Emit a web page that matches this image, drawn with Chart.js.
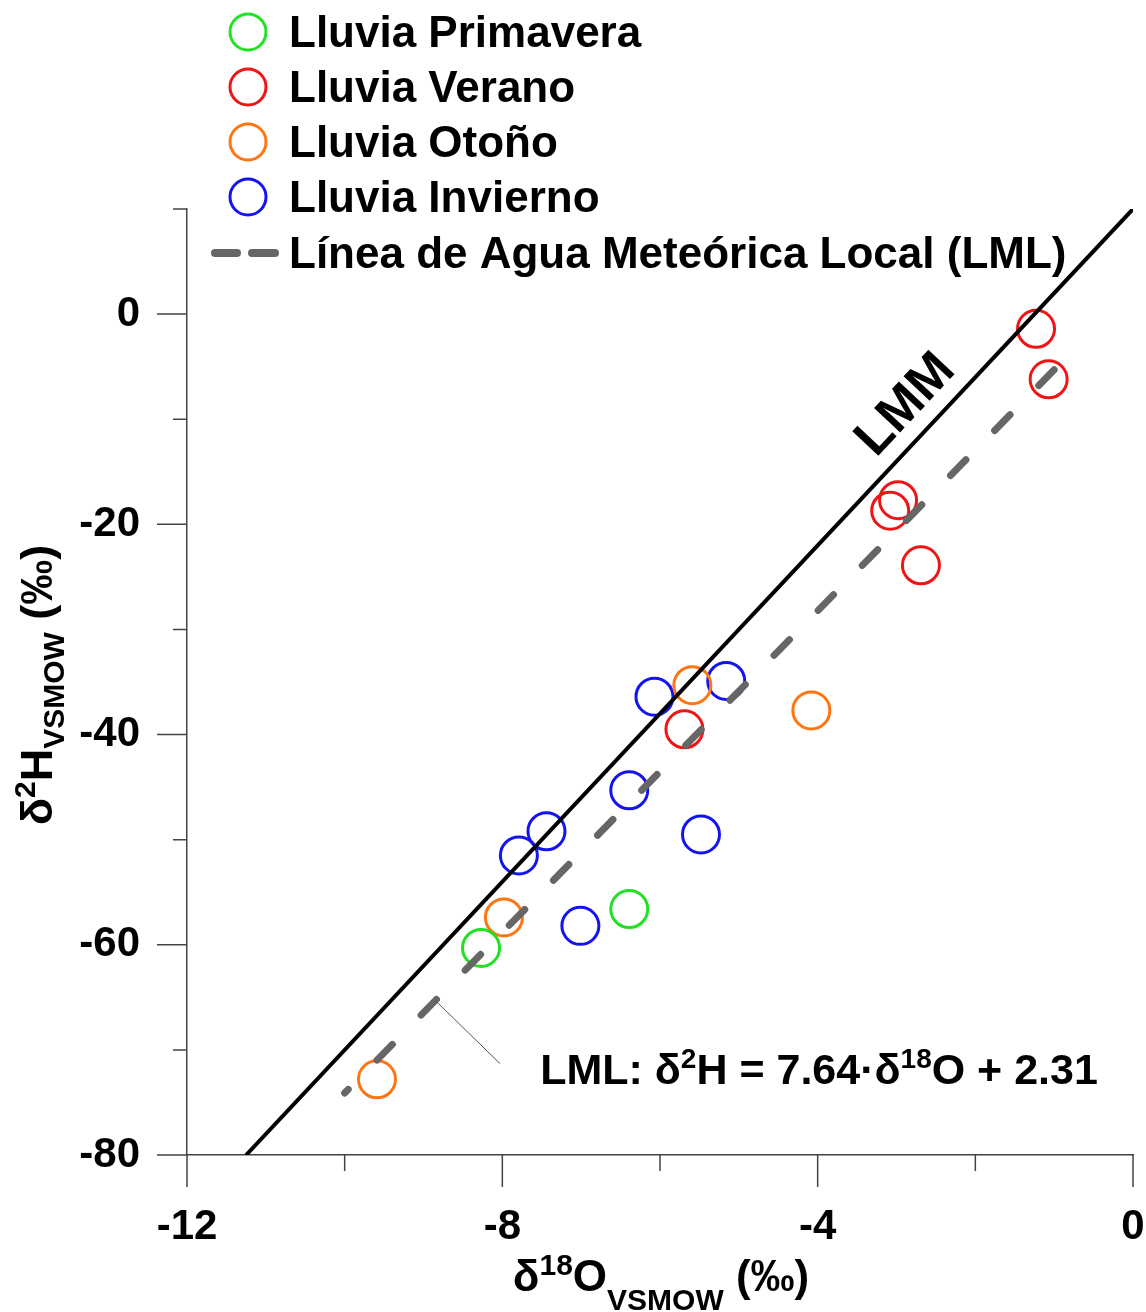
<!DOCTYPE html>
<html>
<head>
<meta charset="utf-8">
<script src="https://cdn.jsdelivr.net/npm/chart.js@4.4.0/dist/chart.umd.min.js"></script>
<style>
  html, body { margin: 0; padding: 0; background: #fff; }
  canvas { display: block; }
</style>
</head>
<body>
<canvas id="myChart" width="1146" height="1312"></canvas>
<script>
// δ18O (x) and δ2H (y) per season
const primaveraX = [-8.27, -6.39];
const primaveraY = [-60.3, -56.6];
const veranoX = [-1.23, -1.07, -2.98, -3.08, -2.69, -5.69];
const veranoY = [-1.4, -6.2, -17.7, -18.7, -23.9, -39.5];
const otonoX = [-9.59, -7.98, -5.59, -4.08];
const otonoY = [-72.8, -57.4, -35.3, -37.7];
const inviernoX = [-6.07, -5.16, -6.39, -7.44, -7.79, -5.48, -7.01];
const inviernoY = [-36.4, -34.9, -45.3, -49.2, -51.5, -49.5, -58.2];

// end points of the two lines
const lmmX = [-11.25, 0];
const lmmY = [-80, 10];
const lmlX = [-1, -10];
const lmlY = [-5.3, -74.1];

// labelled ticks
const xTicks = [-12, -8, -4, 0];
const yTicks = [-80, -60, -40, -20, 0];

const FONT = '"Liberation Sans", Arial, sans-serif';
Chart.defaults.font.family = FONT;

const pts = (xs, ys) => xs.map((x, i) => ({ x: x, y: ys[i] }));

const series = [
  { label: 'Lluvia Primavera', color: '#22e022', xs: primaveraX, ys: primaveraY },
  { label: 'Lluvia Verano', color: '#f01414', xs: veranoX, ys: veranoY },
  { label: 'Lluvia Otoño', color: '#ff7514', xs: otonoX, ys: otonoY },
  { label: 'Lluvia Invierno', color: '#1414f0', xs: inviernoX, ys: inviernoY }
];

var datasets = series.map(s => ({
  label: s.label,
  data: pts(s.xs, s.ys),
  pointRadius: 18.5,
  pointHoverRadius: 18.5,
  pointBorderWidth: 3,
  pointBackgroundColor: 'rgba(0,0,0,0)',
  pointBorderColor: s.color,
  showLine: false,
  order: 1
}));

datasets.push({
  label: 'LMM',
  data: pts(lmmX, lmmY),
  showLine: true,
  borderColor: '#000',
  borderWidth: 4,
  pointRadius: 0,
  order: 0
});
datasets.push({
  label: 'LML',
  data: pts(lmlX, lmlY),
  showLine: true,
  borderColor: '#666',
  borderWidth: 7,
  borderDash: [22, 41],
  borderCapStyle: 'round',
  pointRadius: 0,
  order: 0
});

// draws text made of parts (for super/subscripts)
function drawRich(ctx, parts, x, y, align) {
  let w = 0;
  parts.forEach(p => {
    ctx.font = 'bold ' + p.size + 'px ' + FONT;
    p.w = ctx.measureText(p.t).width;
    w += p.w;
  });
  let cx = align === 'center' ? x - w / 2 : x;
  parts.forEach(p => {
    ctx.font = 'bold ' + p.size + 'px ' + FONT;
    ctx.fillText(p.t, cx, y + (p.dy || 0));
    cx += p.w;
  });
}

const tickMarks = {
  id: 'tickMarks',
  afterDraw(chart) {
    const ctx = chart.ctx, xs = chart.scales.x, ys = chart.scales.y;
    ctx.save();
    ctx.strokeStyle = '#444';
    ctx.lineWidth = 1.5;
    ctx.beginPath();
    xs.ticks.forEach(t => {
      const px = xs.getPixelForValue(t.value);
      const len = xTicks.includes(t.value) ? 32 : 16;
      ctx.moveTo(px, ys.bottom);
      ctx.lineTo(px, ys.bottom + len);
    });
    ys.ticks.forEach(t => {
      const py = ys.getPixelForValue(t.value);
      const len = yTicks.includes(t.value) ? 30 : 14;
      ctx.moveTo(xs.left, py);
      ctx.lineTo(xs.left - len, py);
    });
    ctx.stroke();
    ctx.restore();
  }
};

const legendAndText = {
  id: 'legendAndText',
  afterDraw(chart) {
    const ctx = chart.ctx, xs = chart.scales.x, ys = chart.scales.y;
    ctx.save();
    ctx.fillStyle = '#000';
    ctx.textBaseline = 'alphabetic';
    ctx.textAlign = 'left';

    // legend
    const rows = [32, 87, 142, 197];
    series.forEach((s, i) => {
      ctx.beginPath();
      ctx.arc(248, rows[i], 18, 0, Math.PI * 2);
      ctx.strokeStyle = s.color;
      ctx.lineWidth = 3;
      ctx.stroke();
      ctx.font = 'bold 44px ' + FONT;
      ctx.fillText(s.label, 289, rows[i] + 15);
    });
    ctx.strokeStyle = '#666';
    ctx.lineWidth = 8;
    ctx.lineCap = 'round';
    ctx.beginPath();
    ctx.moveTo(215, 253); ctx.lineTo(237, 253);
    ctx.moveTo(252, 253); ctx.lineTo(275, 253);
    ctx.stroke();
    ctx.font = 'bold 44px ' + FONT;
    ctx.fillText('Línea de Agua Meteórica Local (LML)', 289, 253 + 15);

    // axis titles
    drawRich(ctx, [
      { t: 'δ', size: 44 },
      { t: '18', size: 30, dy: -16 },
      { t: 'O', size: 44 },
      { t: 'VSMOW', size: 30, dy: 19 },
      { t: ' (‰)', size: 44 }
    ], 661, 1291, 'center');

    ctx.save();
    ctx.translate(52, 685);
    ctx.rotate(-Math.PI / 2);
    drawRich(ctx, [
      { t: 'δ', size: 45 },
      { t: '2', size: 30, dy: -17 },
      { t: 'H', size: 45 },
      { t: 'VSMOW', size: 30, dy: 12 },
      { t: ' (‰)', size: 45 }
    ], 0, 0, 'center');
    ctx.restore();

    // LMM label along the line
    const a = Math.atan2(
      ys.getPixelForValue(lmmY[1]) - ys.getPixelForValue(lmmY[0]),
      xs.getPixelForValue(lmmX[1]) - xs.getPixelForValue(lmmX[0]));
    ctx.save();
    ctx.translate(xs.getPixelForValue(-2.88), ys.getPixelForValue(-8.66));
    ctx.rotate(a);
    ctx.font = 'bold 52px ' + FONT;
    ctx.textAlign = 'center';
    ctx.textBaseline = 'middle';
    ctx.fillText('LMM', 0, 0);
    ctx.restore();

    // LML equation with leader line
    ctx.strokeStyle = '#555';
    ctx.lineWidth = 1;
    ctx.lineCap = 'butt';
    ctx.beginPath();
    ctx.moveTo(xs.getPixelForValue(-8.85), ys.getPixelForValue(-65.3));
    ctx.lineTo(xs.getPixelForValue(-8.03), ys.getPixelForValue(-71.3));
    ctx.stroke();
    drawRich(ctx, [
      { t: 'LML: δ', size: 43 },
      { t: '2', size: 28, dy: -16 },
      { t: 'H = 7.64·δ', size: 43 },
      { t: '18', size: 28, dy: -16 },
      { t: 'O + 2.31', size: 43 }
    ], xs.getPixelForValue(-7.52), ys.getPixelForValue(-73.2), 'left');

    ctx.restore();
  }
};

const ctx = document.getElementById('myChart');
new Chart(ctx, {
  type: 'scatter',
  data: { datasets: datasets },
  options: {
    responsive: false,
    animation: false,
    devicePixelRatio: 1,
    layout: { autoPadding: false, padding: { top: 209, right: 13, left: 0, bottom: 0 } },
    plugins: { legend: { display: false }, tooltip: { enabled: false } },
    scales: {
      x: {
        type: 'linear',
        min: -12,
        max: 0,
        ticks: {
          stepSize: 2,
          padding: 47,
          color: '#000',
          font: { size: 42, weight: 'bold' },
          maxRotation: 0,
          autoSkip: false,
          callback: v => xTicks.includes(v) ? String(v) : ''
        },
        grid: { display: false, drawTicks: false, tickLength: 0 },
        border: { display: true, color: '#444', width: 1.5 },
        afterFit: s => { s.height = 157; s.paddingLeft = 0; s.paddingRight = 0; }
      },
      y: {
        type: 'linear',
        min: -80,
        max: 10,
        ticks: {
          stepSize: 10,
          padding: 47,
          color: '#000',
          font: { size: 42, weight: 'bold' },
          autoSkip: false,
          callback: v => yTicks.includes(v) ? String(v) : ''
        },
        grid: { display: false, drawTicks: false, tickLength: 0 },
        border: { display: true, color: '#444', width: 1.5 },
        afterFit: s => { s.width = 187; s.paddingTop = 0; s.paddingBottom = 0; }
      }
    }
  },
  plugins: [tickMarks, legendAndText]
});
</script>
</body>
</html>
